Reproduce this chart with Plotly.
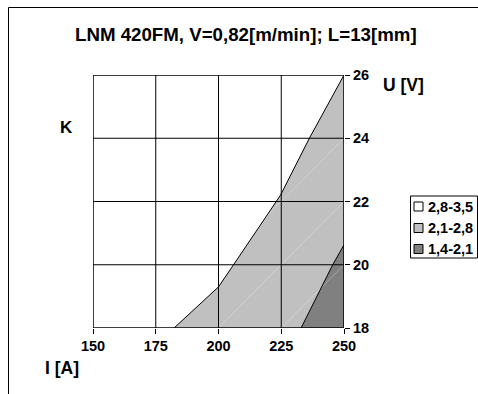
import plotly.graph_objects as go

# ---- data ----
I_ticks = [150, 175, 200, 225, 250]
U_ticks = [18, 20, 22, 24, 26]
# boundary between 2,8-3,5 and 2,1-2,8
b1_I = [182.3, 200, 206, 218, 224.7, 236.2, 250]
b1_U = [18, 19.3, 20, 21.4, 22.2, 24.0, 26]
# boundary between 2,1-2,8 and 1,4-2,1
b2_I = [232.9, 240.3, 245.5, 250]
b2_U = [18, 19.2, 20, 20.63]
levels = ["2,8-3,5", "2,1-2,8", "1,4-2,1"]
level_colors = ["#FFFFFF", "#C0C0C0", "#808080"]
diag_start_I = [150, 175, 200, 225]

W, H = 478, 394
L, R, T, B = 93, 134, 75, 66
PW, PH = W - L - R, H - T - B
FONT = "Arial, Liberation Sans, sans-serif"


def px(xp):
    return (xp - L) / PW


def py(yp):
    return (H - B - yp) / PH


xmin, xmax = I_ticks[0], I_ticks[-1]
ymin, ymax = U_ticks[0], U_ticks[-1]

fig = go.Figure()

# light gray region
fig.add_trace(go.Scatter(
    x=b1_I + [xmax, b1_I[0]], y=b1_U + [ymin, ymin],
    fill="toself", fillcolor=level_colors[1], mode="lines",
    line=dict(width=0), showlegend=False, hoverinfo="skip"))
# dark gray region
fig.add_trace(go.Scatter(
    x=b2_I + [xmax, b2_I[0]], y=b2_U + [ymin, ymin],
    fill="toself", fillcolor=level_colors[2], mode="lines",
    line=dict(width=0), showlegend=False, hoverinfo="skip"))

# faint triangulation diagonals
dx = I_ticks[1] - I_ticks[0]
dy = U_ticks[1] - U_ticks[0]
for s in diag_start_I:
    x_end = xmax
    y_end = ymin + (xmax - s) / dx * dy
    fig.add_trace(go.Scatter(
        x=[s, x_end], y=[ymin, y_end], mode="lines",
        line=dict(color="rgba(255,255,255,0.35)", width=0.8),
        showlegend=False, hoverinfo="skip"))

# contour boundary lines
for bx, by in [(b1_I, b1_U), (b2_I, b2_U)]:
    fig.add_trace(go.Scatter(
        x=bx, y=by, mode="lines", line=dict(color="black", width=1),
        showlegend=False, hoverinfo="skip"))

shapes = []
# gridlines above traces
for v in I_ticks[1:-1]:
    shapes.append(dict(type="line", xref="x", yref="y", x0=v, x1=v, y0=ymin, y1=ymax,
                       line=dict(color="black", width=1), layer="above"))
for v in U_ticks[1:-1]:
    shapes.append(dict(type="line", xref="x", yref="y", x0=xmin, x1=xmax, y0=v, y1=v,
                       line=dict(color="black", width=1), layer="above"))
# plot border
shapes.append(dict(type="rect", xref="x", yref="y", x0=xmin, x1=xmax, y0=ymin, y1=ymax,
                   line=dict(color="black", width=1.5), layer="above"))
# outer chart frame
shapes.append(dict(type="rect", xref="paper", yref="paper",
                   x0=px(8.5), x1=px(W + 5), y0=py(H + 5), y1=py(7.5),
                   line=dict(color="black", width=1), layer="above"))

# custom legend
shapes.append(dict(type="rect", xref="paper", yref="paper",
                   x0=px(410.5), x1=px(477.5), y0=py(258), y1=py(196),
                   line=dict(color="black", width=1), fillcolor="white", layer="above"))
annotations = []
row_y = [206.5, 228, 249]
for name, col, ry in zip(levels, level_colors, row_y):
    shapes.append(dict(type="rect", xref="paper", yref="paper",
                       x0=px(414), x1=px(423), y0=py(ry + 4.5), y1=py(ry - 4.5),
                       line=dict(color="black", width=1), fillcolor=col, layer="above"))
    annotations.append(dict(text=name, xref="paper", yref="paper", x=px(426), y=py(ry),
                            xanchor="left", yanchor="middle", showarrow=False,
                            font=dict(family=FONT, size=14.5, color="black", weight="bold")))

# text labels
annotations += [
    dict(text="LNM 420FM, V=0,82[m/min]; L=13[mm]", xref="paper", yref="paper",
         x=px(246), y=py(34), xanchor="center", yanchor="middle", showarrow=False,
         font=dict(family=FONT, size=18.7, color="black", weight="bold")),
    dict(text="K", xref="paper", yref="paper", x=px(66.5), y=py(127),
         xanchor="center", yanchor="middle", showarrow=False,
         font=dict(family=FONT, size=17, color="black", weight="bold")),
    dict(text="U [V]", xref="paper", yref="paper", x=px(403), y=py(85),
         xanchor="center", yanchor="middle", showarrow=False,
         font=dict(family=FONT, size=17.5, color="black", weight="bold")),
    dict(text="I [A]", xref="paper", yref="paper", x=px(62), y=py(368),
         xanchor="center", yanchor="middle", showarrow=False,
         font=dict(family=FONT, size=17.5, color="black", weight="bold")),
]

tickfont = dict(family=FONT, size=14.5, color="black", weight="bold")
fig.update_layout(
    width=W, height=H,
    margin=dict(l=L, r=R, t=T, b=B),
    paper_bgcolor="white", plot_bgcolor="white",
    showlegend=False,
    shapes=shapes, annotations=annotations,
    xaxis=dict(range=[xmin, xmax], tickvals=I_ticks, ticktext=[str(v) for v in I_ticks],
               showgrid=False, zeroline=False, ticks="outside", ticklen=5,
               tickcolor="black", tickwidth=1, tickfont=tickfont, showline=False,
               fixedrange=True),
    yaxis=dict(range=[ymin, ymax], tickvals=U_ticks, ticktext=[str(v) for v in U_ticks],
               side="right", showgrid=False, zeroline=False, ticks="outside", ticklen=5,
               tickcolor="black", tickwidth=1, tickfont=tickfont, showline=False,
               fixedrange=True),
)

fig.write_html("out.html", config={"displayModeBar": False})
